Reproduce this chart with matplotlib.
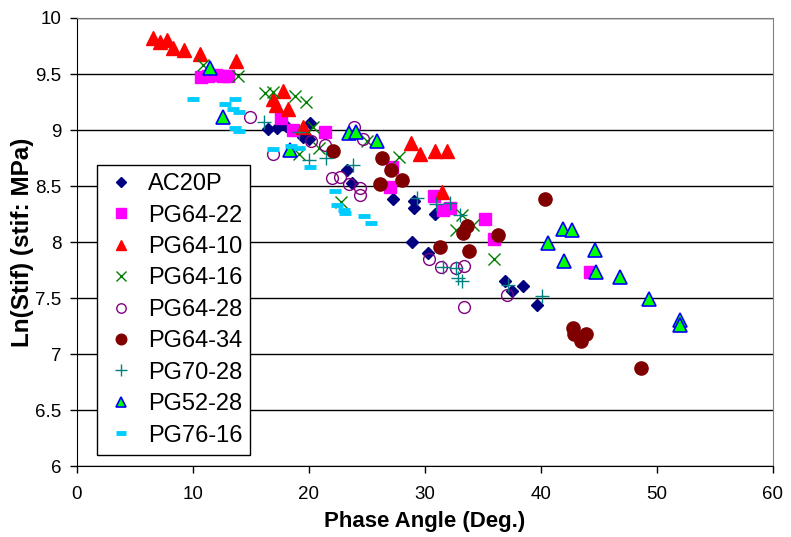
import matplotlib
matplotlib.use("Agg")
import matplotlib.pyplot as plt

plt.rcParams['font.family'] = ['Liberation Sans', 'DejaVu Sans']

# phase angle (deg) and ln(stiffness) per binder
ac20p_x = [16.5, 17.3, 18.0, 20.1, 19.5, 20.0, 23.3, 23.7, 27.3, 29.1, 29.1, 30.9, 28.9, 30.3, 36.9, 37.5, 38.5, 39.7]
ac20p_y = [9.01, 9.02, 9.04, 9.06, 8.94, 8.92, 8.64, 8.53, 8.38, 8.37, 8.30, 8.25, 8.00, 7.90, 7.65, 7.56, 7.61, 7.44]

pg6422_x = [10.7, 11.3, 12.0, 12.6, 13.0, 17.6, 18.6, 21.4, 27.2, 27.0, 30.8, 31.6, 32.2, 35.2, 36.0, 44.2]
pg6422_y = [9.47, 9.48, 9.49, 9.48, 9.48, 9.11, 9.00, 8.98, 8.67, 8.49, 8.41, 8.29, 8.30, 8.21, 8.03, 7.73]

pg6410_x = [6.55, 7.2, 7.8, 8.3, 9.25, 10.6, 13.75, 16.9, 17.8, 17.2, 18.2, 19.5, 28.8, 29.6, 30.9, 31.9, 31.5]
pg6410_y = [9.82, 9.79, 9.80, 9.73, 9.71, 9.68, 9.62, 9.28, 9.35, 9.22, 9.19, 9.03, 8.88, 8.79, 8.81, 8.81, 8.45]

pg6416_x = [10.9, 13.9, 16.2, 16.9, 18.8, 19.8, 19.2, 20.4, 20.9, 22.8, 25.0, 27.8, 33.2, 32.7, 34.2, 36.0]
pg6416_y = [9.58, 9.48, 9.33, 9.34, 9.30, 9.25, 8.79, 9.03, 8.84, 8.36, 8.90, 8.76, 8.24, 8.11, 8.15, 7.85]

pg6428_x = [14.9, 16.9, 20.2, 21.4, 23.9, 24.7, 22.0, 22.7, 23.5, 24.4, 24.4, 30.4, 31.4, 32.7, 33.4, 33.4, 37.1]
pg6428_y = [9.12, 8.79, 8.90, 8.87, 9.03, 8.92, 8.57, 8.58, 8.52, 8.48, 8.42, 7.85, 7.78, 7.77, 7.79, 7.42, 7.53]

pg6434_x = [22.1, 26.35, 27.1, 26.1, 28.0, 33.6, 33.3, 36.3, 31.3, 33.8, 40.4, 42.8, 42.9, 43.9, 43.5, 48.6]
pg6434_y = [8.81, 8.75, 8.64, 8.52, 8.55, 8.14, 8.08, 8.06, 7.96, 7.92, 8.38, 7.23, 7.18, 7.18, 7.12, 6.88]

pg7028_x = [16.1, 19.2, 20.0, 21.5, 23.8, 29.3, 31.0, 32.2, 33.0, 31.6, 32.7, 32.9, 33.2, 37.2, 40.1]
pg7028_y = [9.07, 8.98, 8.73, 8.75, 8.69, 8.39, 8.34, 8.35, 8.24, 7.78, 7.77, 7.68, 7.65, 7.62, 7.52]

pg5228_x = [11.5, 12.6, 18.4, 23.5, 24.1, 25.9, 40.6, 41.9, 42.7, 44.7, 42.0, 44.8, 46.8, 49.3, 52.0, 52.0]
pg5228_y = [9.55, 9.12, 8.82, 8.97, 8.98, 8.90, 7.99, 8.12, 8.11, 7.93, 7.83, 7.73, 7.69, 7.49, 7.30, 7.26]

pg7616_x = [10.0, 12.8, 13.6, 13.5, 14.0, 13.6, 14.0, 16.9, 18.5, 19.2, 20.1, 22.3, 22.4, 23.0, 23.1, 24.8, 25.4]
pg7616_y = [9.28, 9.23, 9.28, 9.19, 9.16, 9.02, 8.99, 8.83, 8.86, 8.84, 8.67, 8.46, 8.33, 8.29, 8.26, 8.23, 8.17]

fig = plt.figure(figsize=(7.91, 5.37), dpi=100)
ax = fig.add_axes([0.097, 0.132, 0.880, 0.8345])

ax.plot(ac20p_x, ac20p_y, 'D', ls='none', color='#000080', ms=6.5, label='AC20P')
ax.plot(pg6422_x, pg6422_y, 's', ls='none', color='#FF00FF', ms=8.5, label='PG64-22')
ax.plot(pg6410_x, pg6410_y, '^', ls='none', color='#FF0000', ms=9.5, label='PG64-10')
ax.plot(pg6416_x, pg6416_y, 'x', ls='none', color='#008000', ms=9, mew=1.0, label='PG64-16')
ax.plot(pg6428_x, pg6428_y, 'o', ls='none', mfc='none', mec='#800080', ms=8.5, mew=1.0, label='PG64-28')
ax.plot(pg6434_x, pg6434_y, 'o', ls='none', color='#800000', ms=9.5, label='PG64-34')
ax.plot(pg7028_x, pg7028_y, '+', ls='none', color='#008080', ms=10, mew=1.0, label='PG70-28')
ax.plot(pg5228_x, pg5228_y, '^', ls='none', mfc='#00FF00', mec='#0000FF', ms=9.5, mew=1.2, label='PG52-28')
ax.plot(pg7616_x, pg7616_y, '_', ls='none', color='#00CCFF', ms=9, mew=3.5, label='PG76-16')

ax.set_xlim(0, 60)
ax.set_ylim(6, 10)
ax.set_xticks(range(0, 61, 10))
ax.set_yticks([6, 6.5, 7, 7.5, 8, 8.5, 9, 9.5, 10])
ax.set_yticklabels(['6', '6.5', '7', '7.5', '8', '8.5', '9', '9.5', '10'])
ax.grid(axis='y', color='black', lw=1.0)
ax.set_axisbelow(True)
ax.tick_params(labelsize=13.5, direction='out', length=5, width=1.0, colors='black')
ax.tick_params(axis='x', pad=9)
ax.tick_params(axis='y', pad=6)
ax.spines['top'].set_color('#808080')
ax.spines['right'].set_color('#808080')

ax.set_xlabel('Phase Angle (Deg.)', fontsize=16, fontweight='bold', labelpad=6)
ax.set_ylabel('Ln(Stif) (stif: MPa)', fontsize=17.5, fontweight='bold', labelpad=1)

leg = ax.legend(loc='lower left', bbox_to_anchor=(0.029, 0.025), borderaxespad=0,
                fontsize=17, fancybox=False, edgecolor='black', framealpha=1,
                markerscale=0.8, handlelength=1.3, handletextpad=0.5,
                labelspacing=0.4, borderpad=0.35)
leg.get_frame().set_linewidth(1.0)

fig.savefig('out.png', dpi=100)
